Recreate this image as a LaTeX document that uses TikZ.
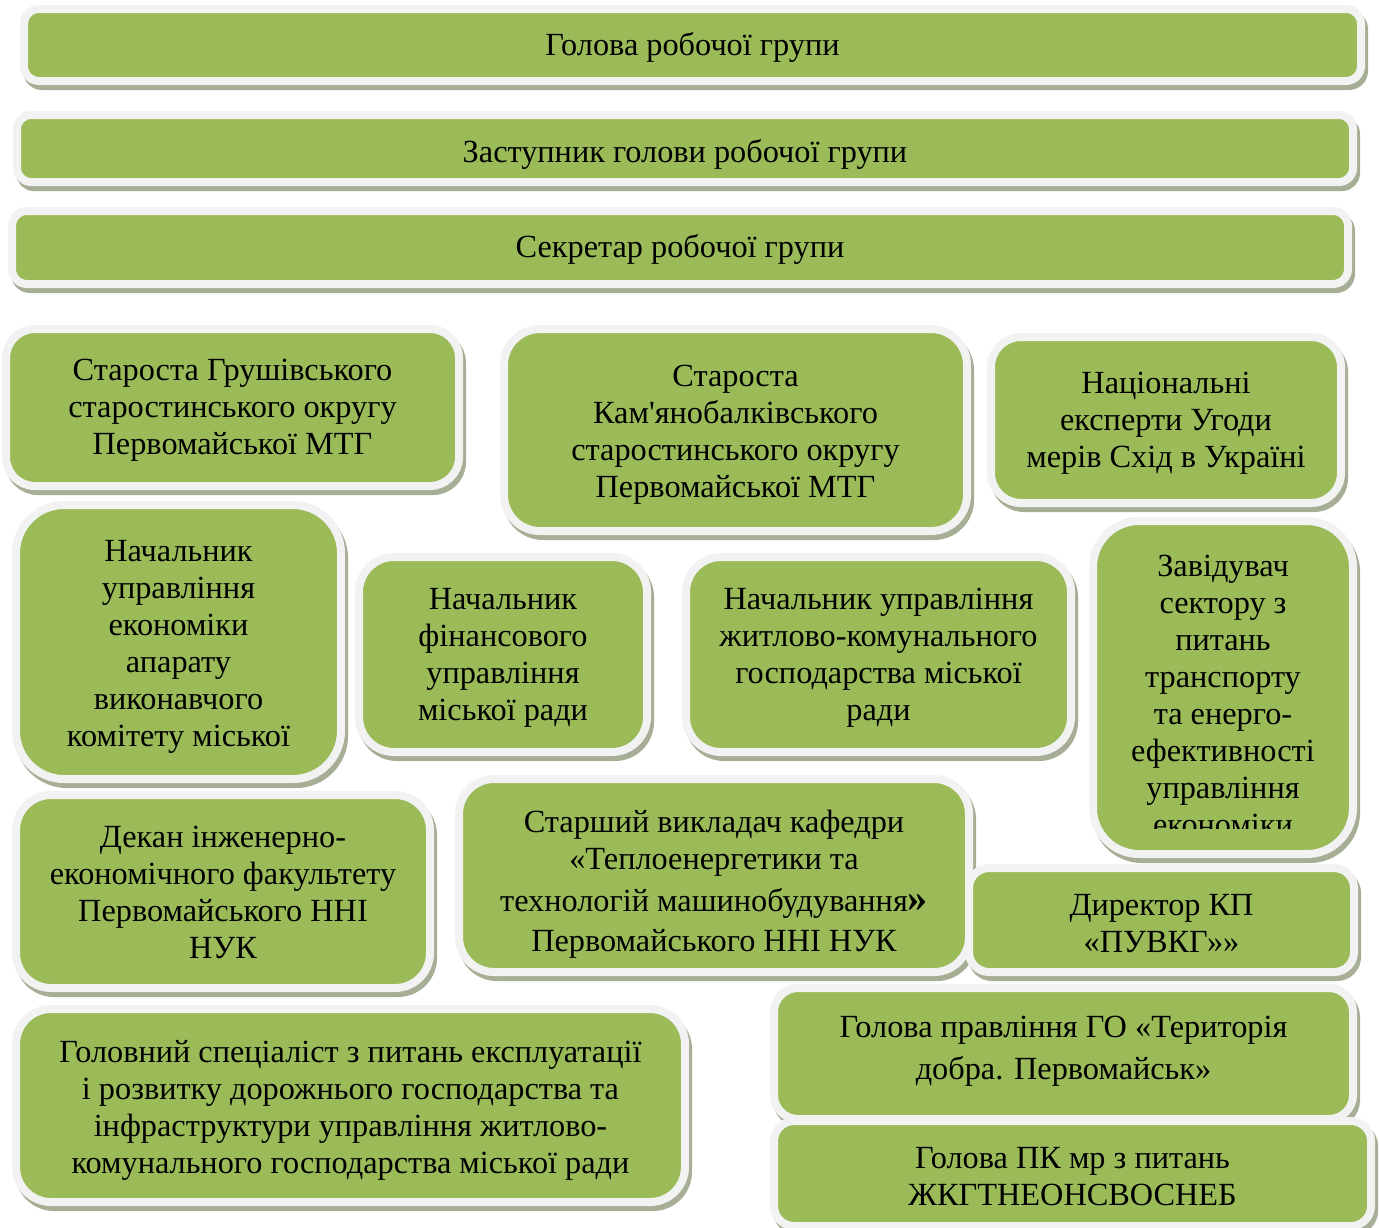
\documentclass[tikz,border=0pt]{standalone}
\usepackage{fontspec}
\setmainfont{Liberation Serif}[Ligatures=TeXOff]
\usetikzlibrary{shadows}

\definecolor{boxgreen}{HTML}{9BBB59}
\definecolor{rimwhite}{HTML}{F2F2F2}
\definecolor{shadowgrey}{HTML}{A6AE95}

\newcommand{\boxlift}[1][31pt]{\rule{0pt}{#1}}

\begin{document}
\begin{tikzpicture}[x=1pt,y=-1pt]
\tikzstyle{orgbox}=[rectangle, fill=boxgreen, draw=rimwhite, line width=8pt,
  align=center, inner sep=0pt, outer sep=0pt,
  font=\fontsize{32.3}{37}\selectfont,
  general shadow={fill=shadowgrey, draw=shadowgrey, line width=8pt,
    shadow xshift=3pt, shadow yshift=-5pt}]
\tikzstyle{orgtext}=[align=center, inner sep=0pt,
  font=\fontsize{32.3}{37}\selectfont]
\useasboundingbox (0,0) rectangle (1380,1227);

    % top rows
    \node (golova) [orgbox, minimum width=1337pt, minimum height=72pt,
      rounded corners=15pt] at (692.5,45) {\boxlift[27pt]Голова робочої групи};
    \node (zastupnyk) [orgbox, minimum width=1336pt, minimum height=67pt,
      rounded corners=14pt] at (685,148.5) {\boxlift[35pt]Заступник голови робочої групи};
    \node (sekretar) [orgbox, minimum width=1336pt, minimum height=73pt,
      rounded corners=15pt] at (680,247.5) {\boxlift[27pt]Секретар робочої групи};

    % members
    \node (hrushivka) [orgbox, minimum width=453pt, minimum height=157pt,
      rounded corners=29pt] at (232.5,407.5)
      {\boxlift[27pt]Староста Грушівського\\старостинського округу\\Первомайської МТГ};
    \node (kamianobalka) [orgbox, minimum width=463pt, minimum height=202pt,
      rounded corners=36pt] at (735.5,430)
      {\boxlift Староста\\Кам'янобалківського\\старостинського округу\\Первомайської МТГ};
    \node (eksperty) [orgbox, minimum width=350pt, minimum height=166pt,
      rounded corners=30pt] at (1166,420)
      {\boxlift[28pt]Національні\\експерти Угоди\\мерів Схід в Україні};
    \node (ekonomika) [orgbox, minimum width=325pt, minimum height=274pt,
      rounded corners=48pt] at (178.5,642)
      {\boxlift Начальник\\управління\\економіки\\апарату\\виконавчого\\комітету міської};
    \node (finansy) [orgbox, minimum width=288pt, minimum height=195pt,
      rounded corners=35pt] at (503,654.5)
      {\boxlift[28pt]Начальник\\фінансового\\управління\\міської ради};
    \node (zhkg) [orgbox, minimum width=385pt, minimum height=195pt,
      rounded corners=35pt] at (878.5,654.5)
      {\boxlift[28pt]Начальник управління\\житлово-комунального\\господарства міської\\ради};
    \node (transport) [orgbox, minimum width=260pt, minimum height=333pt,
      rounded corners=46pt] at (1223,687.5) {};
    \begin{scope}
      \clip (1097,525) rectangle (1349,828);
      \node (transporttext) [orgtext, anchor=north] at (1223,555)
        {Завідувач\\сектору з\\питань\\транспорту\\та енерго-\\ефективності\\управління\\економіки};
    \end{scope}
    \node (dekan) [orgbox, minimum width=414pt, minimum height=193pt,
      rounded corners=35pt] at (223,891.5)
      {\boxlift[24pt]Декан інженерно-\\економічного факультету\\Первомайського ННІ\\НУК};
    \node (vykladach) [orgbox, minimum width=510pt, minimum height=193pt,
      rounded corners=35pt] at (714,875.5)
      {\boxlift[39pt]Старший викладач кафедри\\«Теплоенергетики та\\[5pt]технологій машинобудування{\fontsize{40}{40}\selectfont\bfseries »}\\[3pt]Первомайського ННІ НУК};
    \node (dyrektor) [orgbox, minimum width=385pt, minimum height=104pt,
      rounded corners=20pt] at (1161.5,920) {\boxlift[28pt]Директор КП\\«ПУВКГ»»};
    \node (spetsialist) [orgbox, minimum width=669pt, minimum height=193pt,
      rounded corners=35pt] at (350.5,1105.5)
      {\boxlift Головний спеціаліст з питань експлуатації\\і розвитку дорожнього господарства та\\інфраструктури управління житлово-\\комунального господарства міської ради};
    \node (hromada) [orgbox, minimum width=579pt, minimum height=131pt,
      rounded corners=24pt] at (1063.5,1053.5) {};
    \node (hromadatext) [orgtext, font=\fontsize{32.3}{42}\selectfont]
      at (hromada.center) [yshift=2pt]
      {Голова правління ГО «Територія\\добра. Первомайськ»};
    \node (komisiia) [orgbox, minimum width=597pt, minimum height=105pt,
      rounded corners=20pt] at (1072.5,1173.5)
      {\boxlift[28pt]Голова ПК мр з питань\\ЖКГТНЕОНСВОСНЕБ};

\end{tikzpicture}
\end{document}
